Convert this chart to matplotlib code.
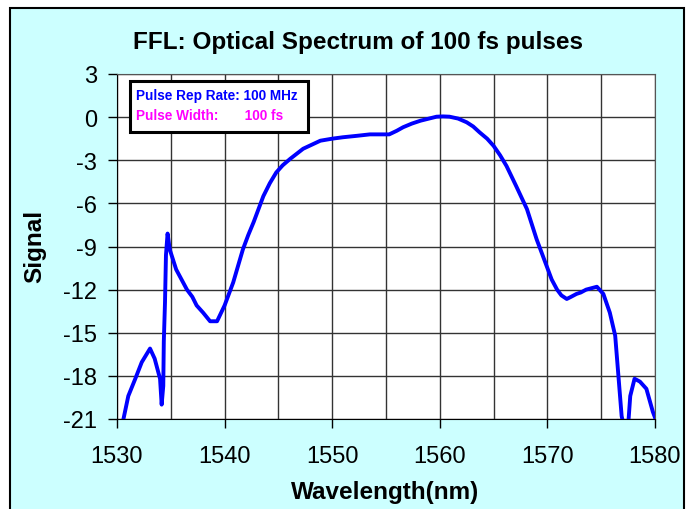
import matplotlib.pyplot as plt
from matplotlib.patches import Rectangle
from matplotlib.ticker import MultipleLocator

# --- data ---
wavelength = [1530.6, 1531.05, 1531.7, 1532.3, 1533.07, 1533.5, 1534.0, 1534.15, 1534.3,
              1534.35, 1534.46, 1534.55, 1534.7, 1534.9, 1535.5, 1536.0, 1536.5, 1537.0,
              1537.4, 1538.0, 1538.65, 1539.3, 1540.0, 1540.8, 1541.7, 1542.2, 1542.7,
              1543.6, 1544.2, 1544.8, 1545.4, 1546.1, 1547.3, 1548.9, 1550.0, 1551.0,
              1552.3, 1553.5, 1555.3, 1556.0, 1556.6, 1557.4, 1558.2, 1559.0, 1559.7,
              1560.3, 1560.9, 1561.7, 1562.5, 1563.1, 1563.7, 1564.4, 1565.0, 1565.6,
              1566.2, 1567.1, 1568.1, 1569.0, 1569.9, 1570.4, 1570.9, 1571.3, 1571.8,
              1572.2, 1572.7, 1573.1, 1573.6, 1574.1, 1574.6, 1575.2, 1575.8, 1576.3,
              1576.6, 1576.9, 1577.1, 1577.5, 1577.7, 1578.1, 1578.6, 1579.2, 1579.8, 1580.0]
signal = [-21.0, -19.4, -18.2, -17.05, -16.1, -16.8, -18.2, -20.0, -18.7,
          -15.6, -12.9, -9.6, -8.1, -9.2, -10.6, -11.3, -12.0, -12.5,
          -13.1, -13.6, -14.2, -14.2, -13.1, -11.5, -9.2, -8.2, -7.3,
          -5.5, -4.6, -3.85, -3.35, -2.9, -2.2, -1.64, -1.5, -1.4,
          -1.3, -1.2, -1.2, -0.95, -0.7, -0.45, -0.25, -0.1, 0.03,
          0.05, 0.03, -0.1, -0.36, -0.65, -1.06, -1.5, -2.0, -2.65,
          -3.4, -4.8, -6.4, -8.5, -10.3, -11.3, -12.0, -12.4, -12.65,
          -12.5, -12.3, -12.2, -12.0, -11.9, -11.8, -12.3, -13.6, -15.2,
          -18.0, -20.8, -21.5, -21.5, -19.4, -18.2, -18.4, -18.9, -20.5, -20.9]

rep_rate_text = 'Pulse Rep Rate: 100 MHz'
width_text = 'Pulse Width:       100 fs'

plt.rcParams['font.family'] = ['Liberation Sans', 'DejaVu Sans']
plt.rcParams['axes.unicode_minus'] = False

fig = plt.figure(figsize=(6.94, 5.10), dpi=100, facecolor='white')
# cyan chart area with black frame
fig.patches.append(Rectangle((10 / 694, -0.1), 674 / 694, 1.1 - 9 / 510,
                             transform=fig.transFigure, facecolor='#CCFFFF',
                             edgecolor='black', linewidth=1.5, zorder=-10))

ax = fig.add_axes([117 / 694, 1 - 420 / 510, 538 / 694, 345 / 510])
ax.set_facecolor('white')
ax.plot(wavelength, signal, color='#0000FF', linewidth=2.8, clip_on=True)

ax.set_xlim(1530, 1580)
ax.set_ylim(-21, 3)
ax.xaxis.set_major_locator(MultipleLocator(10))
ax.xaxis.set_minor_locator(MultipleLocator(5))
ax.yaxis.set_major_locator(MultipleLocator(3))
ax.grid(True, which='both', color='#333333', linewidth=1)
ax.tick_params(axis='x', which='minor', length=0)
ax.tick_params(axis='both', which='major', direction='out', length=6.5, width=1,
               labelsize=17)
ax.tick_params(axis='y', which='major', pad=8)
ax.tick_params(axis='x', which='major', pad=12)
for s in ax.spines.values():
    s.set_color('#555555')
ax.spines['left'].set_color('black')
ax.spines['bottom'].set_color('black')

fig.text(358 / 694, 1 - 42 / 510, 'FFL: Optical Spectrum of 100 fs pulses',
         fontsize=17.5, fontweight='bold', ha='center', va='center')
fig.text(385 / 694, 1 - 493 / 510, 'Wavelength(nm)', fontsize=17.5,
         fontweight='bold', ha='center', va='center')
fig.text(35 / 694, 1 - 246 / 510, 'Signal', fontsize=17.5, fontweight='bold',
         ha='center', va='center', rotation=90)

# info box
ax.add_patch(Rectangle((0.024, 0.832), 0.331, 0.148, transform=ax.transAxes,
                       facecolor='white', edgecolor='black', linewidth=2.2, zorder=5))
ax.text(0.036, 0.938, rep_rate_text, transform=ax.transAxes, color='#0000FF',
        fontsize=9.8, fontweight='bold', va='center', zorder=6)
ax.text(0.036, 0.88, width_text, transform=ax.transAxes, color='#FF00FF',
        fontsize=9.8, fontweight='bold', va='center', zorder=6)

plt.savefig('out.png', dpi=100)
